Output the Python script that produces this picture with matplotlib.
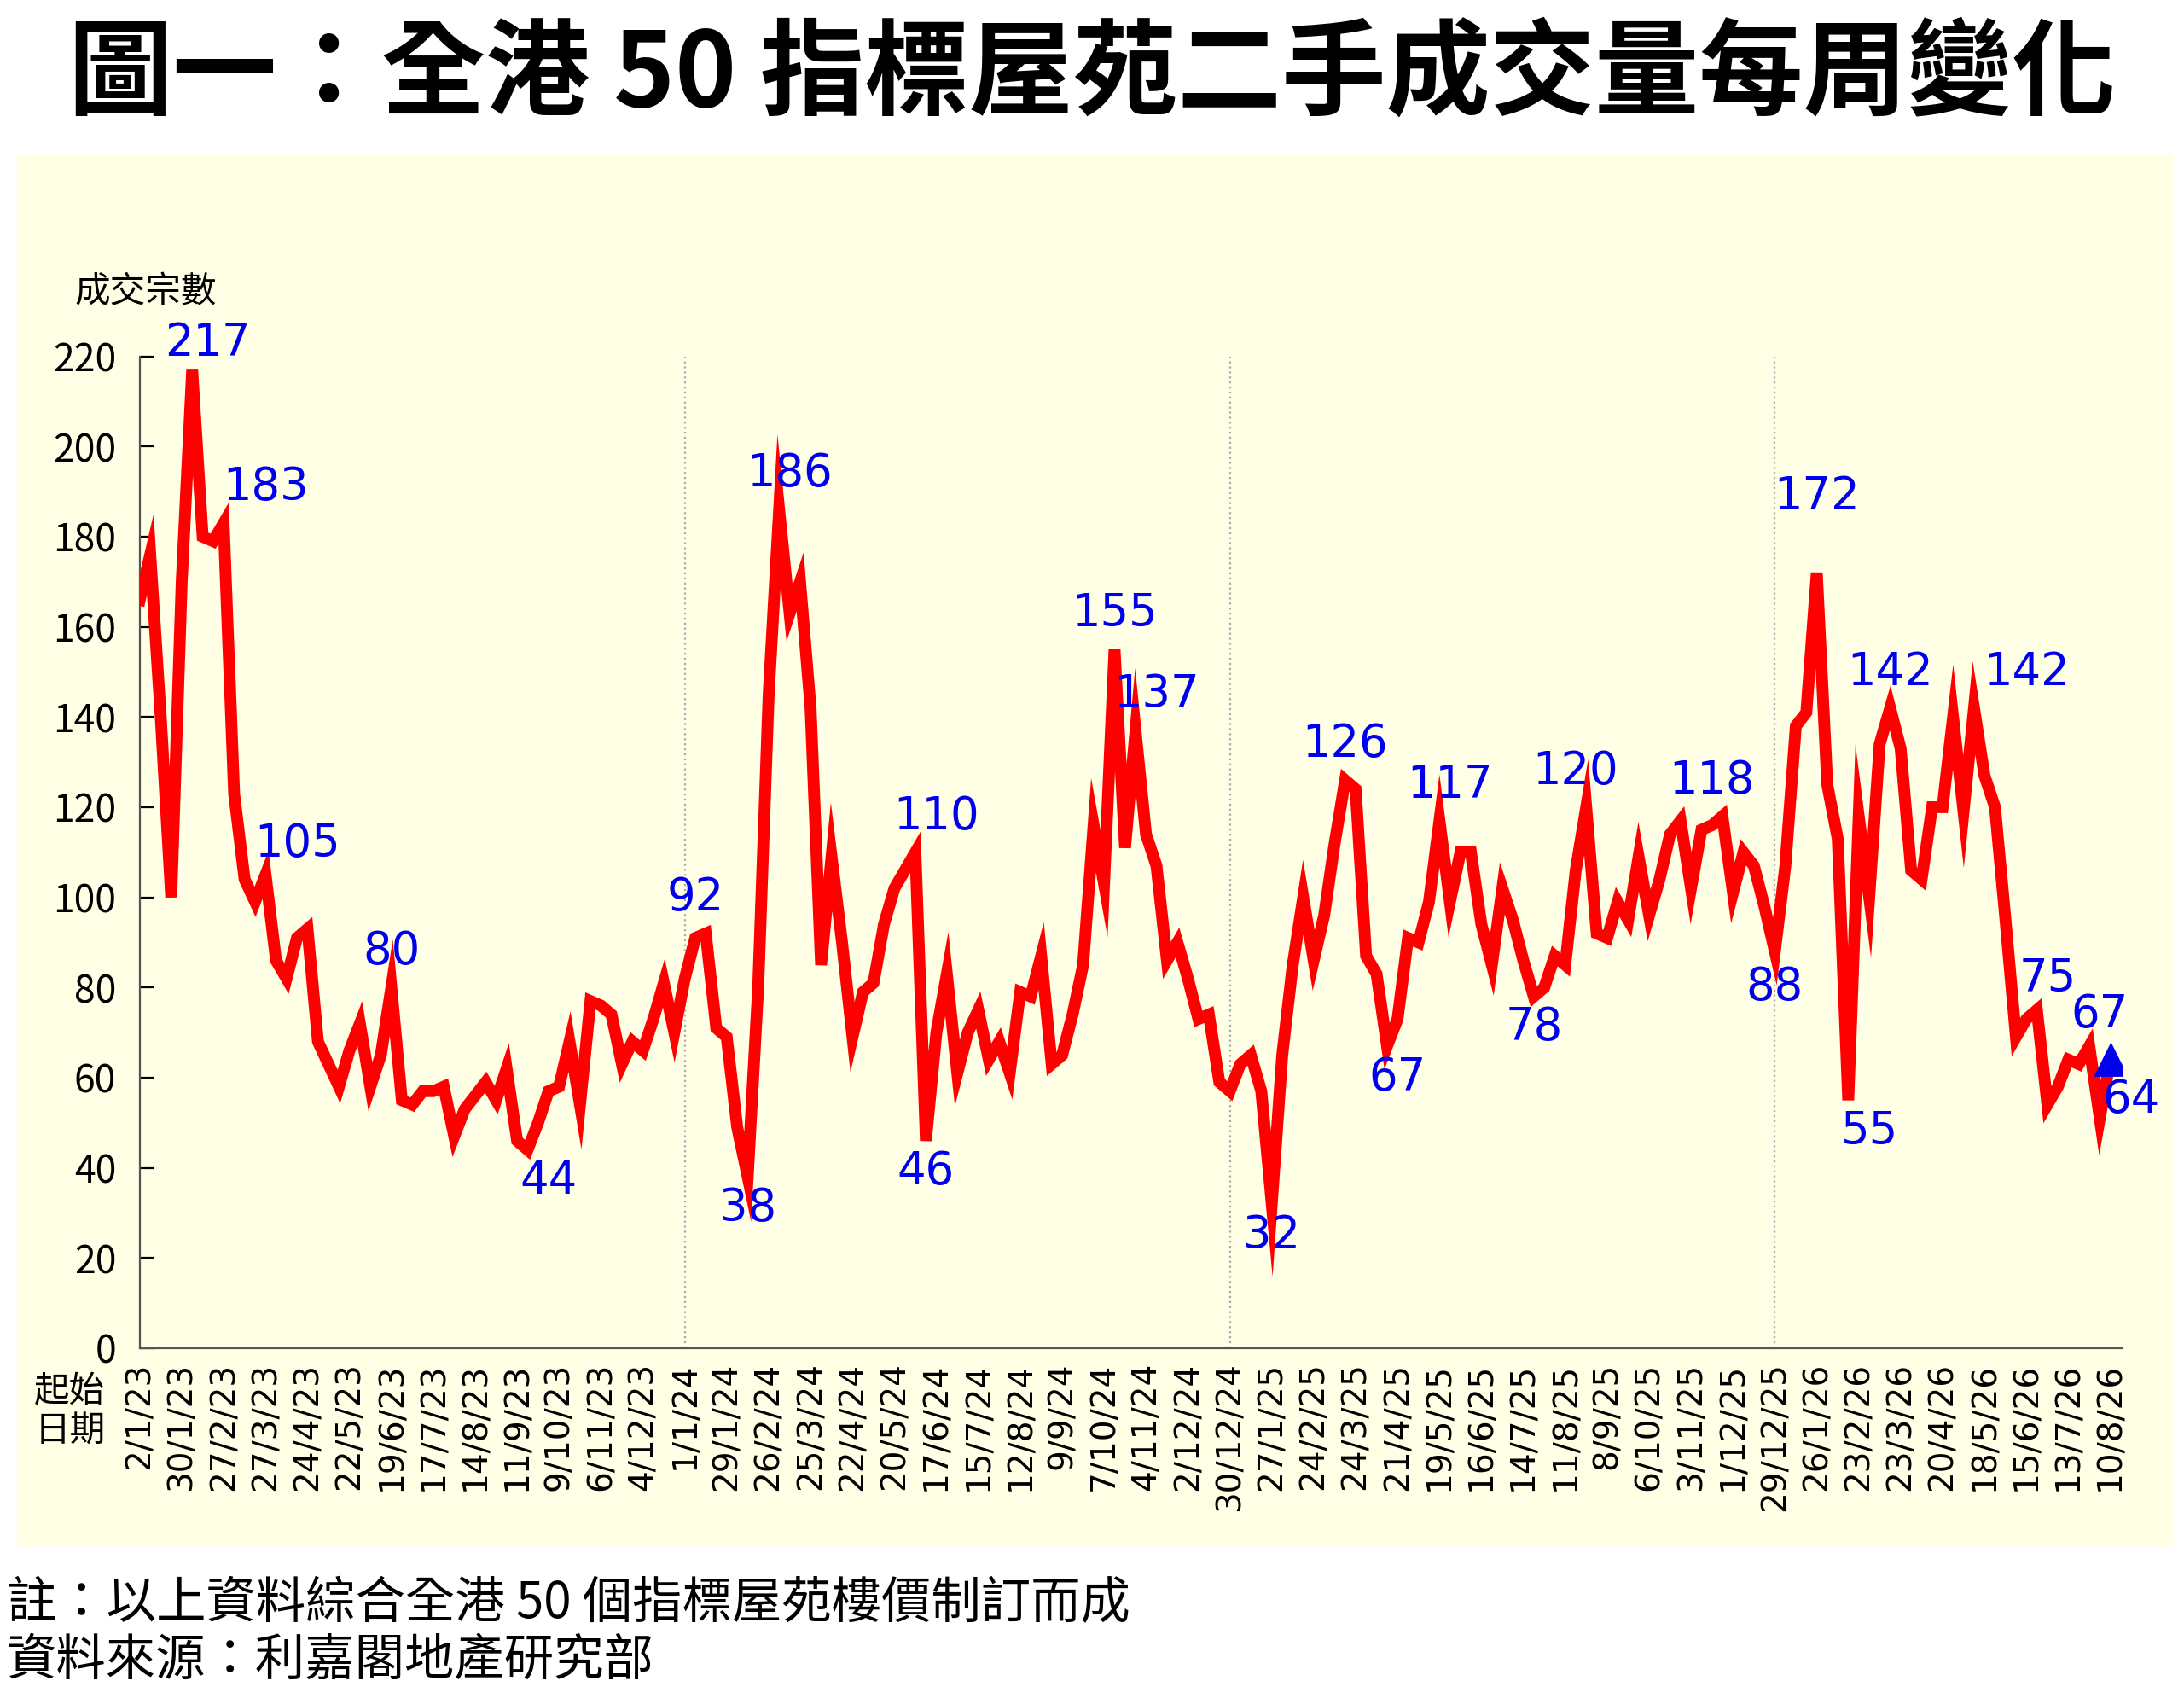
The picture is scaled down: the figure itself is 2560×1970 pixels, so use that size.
import matplotlib
matplotlib.use("Agg")
import matplotlib.pyplot as plt
import matplotlib.patches as patches

plt.rcParams['font.family'] = ['Noto Sans CJK TC', 'DejaVu Sans']

# weekly deals, from week starting 2/1/23
y2023 = [166, 176, 140, 100, 170, 217, 180, 179, 183, 123, 104, 99, 105, 86, 82, 91, 93, 68, 63, 58,
         66, 72, 58, 65, 80, 55, 54, 57, 57, 58, 47, 53, 56, 59, 55, 62, 46, 44, 50, 57,
         58, 68, 54, 77, 76, 74, 63, 68, 66, 73, 81, 70]
y2024 = [82, 91, 92, 71, 69, 49, 38, 80, 145, 186, 163, 170, 142, 85, 109, 90, 69, 79, 81, 94,
         102, 106, 110, 46, 70, 83, 61, 70, 75, 64, 68, 61, 79, 78, 87, 63, 65, 74, 85, 116,
         103, 155, 111, 137, 114, 107, 86, 90, 82, 73, 74, 59]
y2025 = [57, 63, 65, 57, 32, 65, 85, 100, 86, 96, 112, 126, 124, 87, 83, 67, 73, 91, 90, 99,
         117, 99, 110, 110, 94, 85, 102, 95, 86, 78, 80, 87, 85, 106, 120, 92, 91, 99, 95, 109,
         96, 104, 114, 117, 102, 115, 116, 118, 101, 110, 107, 98]
y2026 = [88, 107, 138, 141, 172, 125, 113, 55, 118, 100, 134, 142, 133, 106, 104, 120, 120, 140, 119, 142,
         127, 120, 95, 69, 73, 75, 54, 58, 64, 63, 67, 51, 64]
values = y2023 + y2024 + y2025 + y2026

tick_labels = ["2/1/23", "30/1/23", "27/2/23", "27/3/23", "24/4/23", "22/5/23", "19/6/23", "17/7/23",
               "14/8/23", "11/9/23", "9/10/23", "6/11/23", "4/12/23",
               "1/1/24", "29/1/24", "26/2/24", "25/3/24", "22/4/24", "20/5/24", "17/6/24", "15/7/24",
               "12/8/24", "9/9/24", "7/10/24", "4/11/24", "2/12/24", "30/12/24",
               "27/1/25", "24/2/25", "24/3/25", "21/4/25", "19/5/25", "16/6/25", "14/7/25", "11/8/25",
               "8/9/25", "6/10/25", "3/11/25", "1/12/25", "29/12/25",
               "26/1/26", "23/2/26", "23/3/26", "20/4/26", "18/5/26", "15/6/26", "13/7/26", "10/8/26"]
year_starts = [52, 104, 156]

# (index, text offset x in weeks, offset y)
labels = [(5, 1.5, 1), (8, 4, 3), (12, 3, 2), (24, 0, 3),
          (37, 2, -2), (54, -1, 3), (58, 0, -2), (61, 1, 3),
          (74, 2, 3), (75, 0, -2), (93, 0, 3), (95, 2, 3),
          (108, 0, -2), (115, 0, 3), (119, 1, -2), (124, 1, 3),
          (133, 0, -2), (138, -1, 3), (151, -1, 3), (156, 0, -3),
          (160, 0, 12), (163, 2, -2), (167, 0, 3), (175, 5, 3),
          (181, 1, 2), (186, 1, 2), (188, 2, -4)]

bg = '#FFFFE6'
fig = plt.figure(figsize=(12.8, 9.85), dpi=200)
fig.patches.append(patches.Rectangle((0.008, 0.08), 0.987, 0.828, transform=fig.transFigure,
                                     facecolor=bg, edgecolor='none', zorder=-1))
fig.text(0.5, 0.955, "圖一：全港 50 指標屋苑二手成交量每周變化", ha='center', va='center',
         fontsize=44, fontweight='bold')
fig.text(0.003, 0.046, "註：以上資料綜合全港 50 個指標屋苑樓價制訂而成", fontsize=21, va='center')
fig.text(0.003, 0.012, "資料來源：利嘉閣地產研究部", fontsize=21, va='center')

ax = fig.add_axes([0.064, 0.198, 0.908, 0.59])
ax.set_facecolor(bg)
x = list(range(len(values)))
ax.plot(x, values, color='#FF0000', lw=5, solid_joinstyle='miter', zorder=3)
ax.plot([x[-1]], [values[-1]], marker='^', color='#0000EE', ms=13, lw=0, zorder=4)

for i, dx, dy in labels:
    ax.text(i + dx, values[i] + dy, str(values[i]), color='#0000EE', fontsize=19,
            ha='center', va='bottom' if dy > 0 else 'top', zorder=5, family='DejaVu Sans')

for ys in year_starts:
    ax.axvline(ys, color='#aaaaaa', lw=0.8, ls=':', zorder=1)

ax.set_xlim(0, 189.2)
ax.set_ylim(0, 220)
ax.set_yticks(range(0, 221, 20))
ax.tick_params(axis='y', labelsize=16, direction='in', length=6, pad=10)
ax.set_xticks(range(0, 189, 4))
ax.set_xticklabels(tick_labels, rotation=90, fontsize=14, family='DejaVu Sans')
ax.tick_params(axis='x', length=0, pad=6)
for s in ['top', 'right']:
    ax.spines[s].set_visible(False)
for s in ['left', 'bottom']:
    ax.spines[s].set_color('#555555')
fig.text(0.034, 0.826, "成交宗數", fontsize=15, va='center')
fig.text(0.032, 0.16, "起始\n日期", fontsize=15, va='center', ha='center', linespacing=1.2)

fig.savefig("out.png", dpi=200, facecolor='white')
